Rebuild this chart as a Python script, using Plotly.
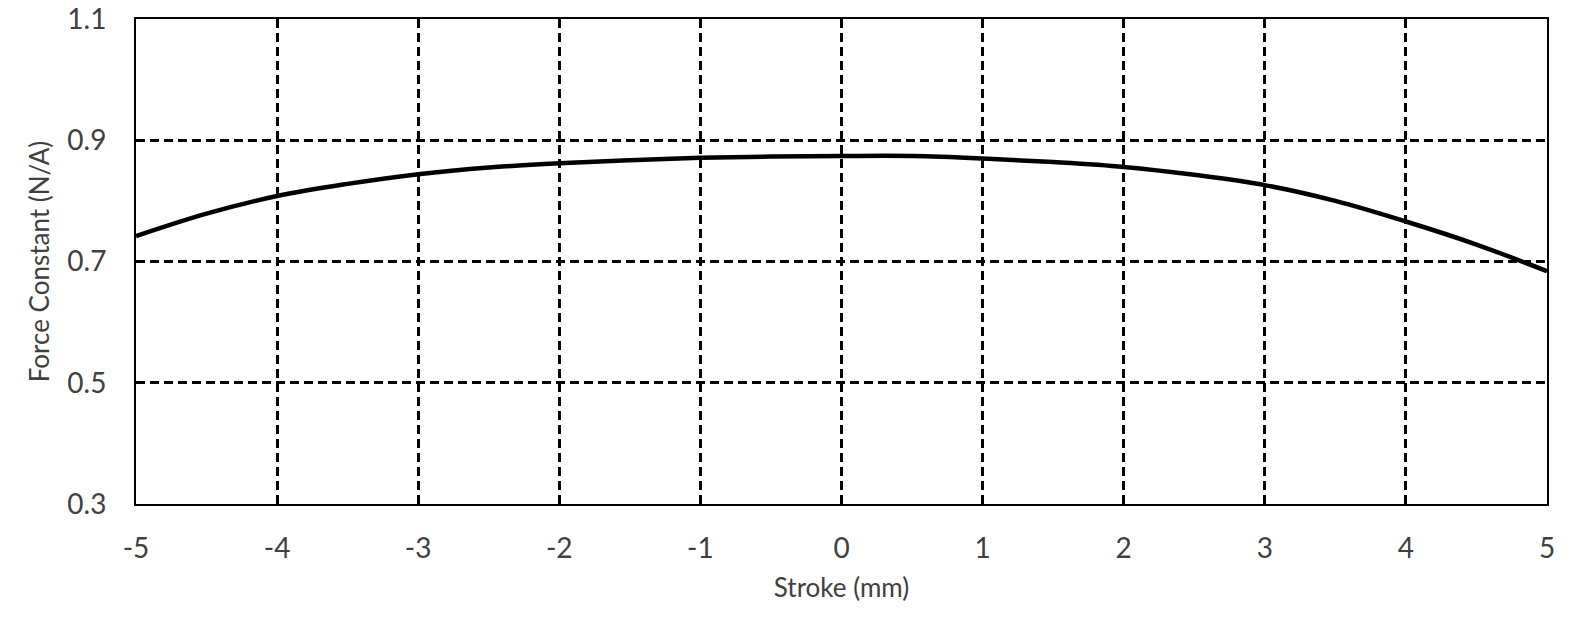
import plotly.graph_objects as go

stroke_mm = [-5, -4.5, -4, -3.5, -3, -2.5, -2, -1.5, -1, -0.5, 0, 0.5, 1, 1.5, 2, 2.5, 3, 3.5, 4, 4.5, 5]
force_constant = [0.742, 0.779, 0.808, 0.828, 0.844, 0.855, 0.862, 0.867, 0.871, 0.873, 0.874,
                  0.874, 0.870, 0.864, 0.856, 0.843, 0.826, 0.800, 0.766, 0.728, 0.684]
x_ticks = [-5, -4, -3, -2, -1, 0, 1, 2, 3, 4, 5]
y_ticks = [0.3, 0.5, 0.7, 0.9, 1.1]

FONT = "Lato"
TXT = "#404040"

fig = go.Figure()
fig.add_trace(go.Scatter(x=stroke_mm, y=force_constant, mode="lines",
                         line=dict(color="black", width=4.5, shape="spline", smoothing=1.0),
                         showlegend=False, hoverinfo="skip"))

fig.update_layout(
    width=1580, height=619,
    margin=dict(l=136, r=33, t=18.5, b=115),
    paper_bgcolor="white", plot_bgcolor="white",
    font=dict(family=FONT, size=28, color=TXT),
)
fig.update_xaxes(
    range=[-5, 5], tickvals=x_ticks, ticktext=[str(v) for v in x_ticks],
    showgrid=True, gridcolor="black", gridwidth=2.8, griddash="9px,5px",
    showline=True, linecolor="black", linewidth=2, mirror=True,
    zeroline=False, ticks="", ticklabelstandoff=18, automargin=False,
    ticklabeloverflow="allow",
    title=dict(text="Stroke (mm)", font=dict(family=FONT, size=26, color=TXT), standoff=16),
)
fig.update_yaxes(
    range=[0.3, 1.1], tickvals=y_ticks, ticktext=[f"{v:.1f}" for v in y_ticks],
    showgrid=True, gridcolor="black", gridwidth=2.8, griddash="9px,5px",
    showline=True, linecolor="black", linewidth=2, mirror=True,
    zeroline=False, ticks="", ticklabelstandoff=22, automargin=False,
    ticklabeloverflow="allow",
    title=dict(text="Force Constant (N/A)", font=dict(family=FONT, size=26, color=TXT), standoff=10),
)

fig.write_html("out.html", config={"displayModeBar": False},
               post_script="document.body.style.margin='0';")
